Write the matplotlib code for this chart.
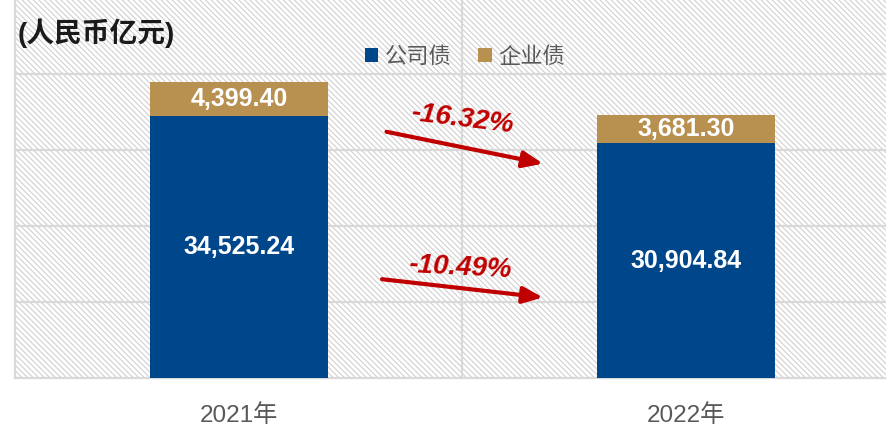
import matplotlib.pyplot as plt
from matplotlib.patches import Rectangle

plt.rcParams['font.family'] = ['Liberation Sans', 'Noto Sans CJK SC']
plt.rcParams['hatch.linewidth'] = 0.8

# data
years = ['2021年', '2022年']
company_bonds = [34525.24, 30904.84]   # 公司债
enterprise_bonds = [4399.40, 3681.30]  # 企业债
series_names = ['公司债', '企业债']
changes = ['-16.32%', '-10.49%']

# annotation placement (data coords)
arrow_starts = [(0.33, 32400), (0.32, 13000)]
arrow_ends = [(0.68, 28200), (0.68, 10600)]
text_pos = [(0.5, 34000), (0.495, 14500)]
text_rot = [-7, -3]

blue = '#00468B'
gold = '#B8904F'
red = '#C00000'
grid_c = '#D9D9D9'

fig = plt.figure(figsize=(8.87, 4.28), dpi=100)
ax = fig.add_axes([15.5 / 887, 50 / 428, 894 / 887, 380 / 428])

# hatched background
ax.add_patch(Rectangle((0, 0), 1, 1, transform=ax.transAxes, facecolor='white',
                       edgecolor='#D0D0D0', hatch='\\' * 6, linewidth=0, zorder=0))

x = list(range(len(years)))
b1 = ax.bar(x, company_bonds, width=0.4, color=blue, zorder=3)
b2 = ax.bar(x, enterprise_bonds, width=0.4, bottom=company_bonds, color=gold, zorder=3)

for i in x:
    ax.text(i, company_bonds[i] / 2, f'{company_bonds[i]:,.2f}', ha='center', va='center',
            color='white', fontsize=18, fontweight='bold', zorder=4)
    ax.text(i, company_bonds[i] + enterprise_bonds[i] / 2, f'{enterprise_bonds[i]:,.2f}',
            ha='center', va='center', color='white', fontsize=18, fontweight='bold', zorder=4)

for s, e, t, p, r in zip(arrow_starts, arrow_ends, changes, text_pos, text_rot):
    ax.annotate('', xy=e, xytext=s,
                arrowprops=dict(arrowstyle='-|>,head_length=1.2,head_width=0.5',
                                color=red, lw=3, shrinkA=0, shrinkB=0), zorder=5)
    ax.text(p[0], p[1], t, ha='center', va='center', color=red, fontsize=20,
            fontweight='bold', fontstyle='italic', rotation=r, zorder=5)

ax.set_xlim(-0.5, 1.5)
ax.set_ylim(0, 50000)
ax.set_yticks([10000, 20000, 30000, 40000])
ax.yaxis.grid(True, color=grid_c, linewidth=1.6, zorder=1)
ax.axvline(0.5, color=grid_c, linewidth=1.6, zorder=1)
ax.set_axisbelow(True)
ax.tick_params(left=False, bottom=False, labelleft=False)
ax.set_xticks(x)
ax.set_xticklabels(years, fontsize=17.5, color='#595959')
ax.tick_params(axis='x', pad=15)
for side in ['top', 'right']:
    ax.spines[side].set_visible(False)
for side in ['left', 'bottom']:
    ax.spines[side].set_color(grid_c)
    ax.spines[side].set_linewidth(1.6)

fig.text(18 / 887, 1 - 33 / 428, '(人民币亿元)', fontsize=20, fontweight='bold',
         color='#1A1A1A', ha='left', va='center')

leg = fig.legend([b1, b2], series_names, loc='center', bbox_to_anchor=(465 / 887, 1 - 57 / 428),
                 ncol=2, frameon=False, fontsize=16, handlelength=0.6, handleheight=0.6,
                 handletextpad=0.3, columnspacing=1.2)
for t in leg.get_texts():
    t.set_color('#595959')

fig.savefig('out.png', dpi=100)
